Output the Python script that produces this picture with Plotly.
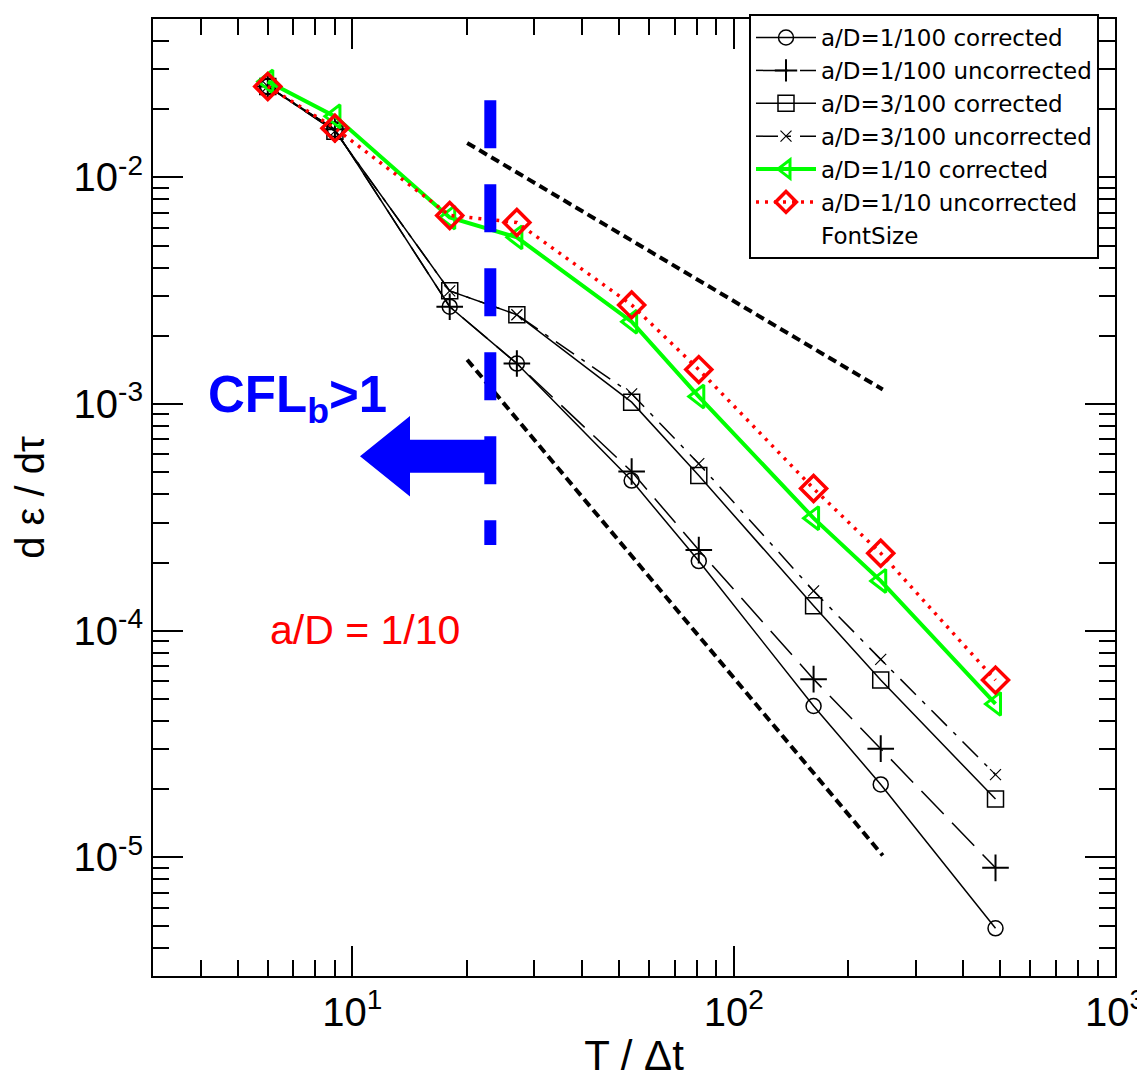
import numpy as np
import plotly.graph_objects as go

# ---------------- data ----------------
t_dt = [6, 9, 18, 27, 54, 81, 162, 243, 486]

ad100_corr = [0.0252, 0.0163, 0.00269, 0.00151, 4.60e-4, 2.03e-4, 4.66e-5, 2.10e-5, 4.87e-6]
ad100_unc = [0.0252, 0.0163, 0.00269, 0.00151, 5.04e-4, 2.27e-4, 6.12e-5, 3.02e-5, 9.0e-6]
ad300_corr = [0.0252, 0.0160, 0.00316, 0.00248, 1.02e-3, 4.84e-4, 1.29e-4, 6.06e-5, 1.81e-5]
ad300_unc = [0.0252, 0.0160, 0.00316, 0.00248, 1.11e-3, 5.46e-4, 1.50e-4, 7.48e-5, 2.32e-5]
ad10_corr = [0.0265, 0.0186, 0.00666, 0.00544, 2.31e-3, 1.08e-3, 3.14e-4, 1.66e-4, 4.76e-5]
ad10_unc = [0.0252, 0.0165, 0.00680, 0.00633, 2.74e-3, 1.42e-3, 4.24e-4, 2.20e-4, 6.06e-5]

# reference slopes
slope1_x = [20, 246]
slope1_y = [0.0142, 0.00116]
slope2_x = [20, 246]
slope2_y = [0.00157, 1.02e-5]

# CFL_b = 1 marker line
cfl_x = [23, 23]
cfl_y = [0.0219, 2.39e-4]

x_ticks = [10, 100, 1000]
x_ticktext = ["10<sup>1</sup>", "10<sup>2</sup>", "10<sup>3</sup>"]
y_ticks = [1e-5, 1e-4, 1e-3, 1e-2]
y_ticktext = ["10<sup>-5</sup>", "10<sup>-4</sup>", "10<sup>-3</sup>", "10<sup>-2</sup>"]

# ---------------- figure ----------------
# the page body has an 8px margin; the figure is sized to fill the window exactly
BODY = 8
W, H = 1145 - 2 * BODY, 1087 - 2 * BODY
ML, MR, MT, MB = 145, 22, 6, 103
PW = W - ML - MR
PH = H - MT - MB


def px2paper(px, py):
    """page pixel -> paper coordinates"""
    return (px - BODY - ML) / PW, (BODY + H - MB - py) / PH


fig = go.Figure()

thin = 1.5
fig.add_trace(go.Scatter(
    x=t_dt, y=ad100_corr, name="a/D=1/100 corrected", mode="lines+markers",
    line=dict(color="black", width=thin),
    marker=dict(symbol="circle-open", size=15, color="black", line=dict(width=1.5))))
fig.add_trace(go.Scatter(
    x=t_dt, y=ad100_unc, name="a/D=1/100 uncorrected", mode="lines+markers",
    line=dict(color="black", width=thin, dash="32px,12px"),
    marker=dict(symbol="cross-thin-open", size=19, color="black", line=dict(width=2, color="black"))))
fig.add_trace(go.Scatter(
    x=t_dt, y=ad300_corr, name="a/D=3/100 corrected", mode="lines+markers",
    line=dict(color="black", width=thin),
    marker=dict(symbol="square-open", size=16, color="black", line=dict(width=1.5))))
fig.add_trace(go.Scatter(
    x=t_dt, y=ad300_unc, name="a/D=3/100 uncorrected", mode="lines+markers",
    line=dict(color="black", width=thin, dash="22px,9px,4px,9px"),
    marker=dict(symbol="x-thin-open", size=11, color="black", line=dict(width=1.2, color="black"))))
fig.add_trace(go.Scatter(
    x=t_dt, y=ad10_corr, name="a/D=1/10 corrected", mode="lines+markers",
    line=dict(color="#00ff00", width=4),
    marker=dict(symbol="triangle-left-open", size=20, color="#00ff00", line=dict(width=3, color="#00ff00"))))
fig.add_trace(go.Scatter(
    x=t_dt, y=ad10_unc, name="a/D=1/10 uncorrected", mode="lines+markers",
    line=dict(color="#ff0000", width=3.5, dash="3px,6px"),
    marker=dict(symbol="diamond-open", size=20, color="#ff0000", line=dict(width=3.5, color="#ff0000"))))
fig.add_trace(go.Scatter(
    x=[None], y=[None], name="FontSize", mode="lines",
    line=dict(color="rgba(0,0,0,0)", width=0)))

# slope guide lines
for sx, sy in ((slope1_x, slope1_y), (slope2_x, slope2_y)):
    fig.add_trace(go.Scatter(
        x=sx, y=sy, mode="lines", showlegend=False, hoverinfo="skip",
        line=dict(color="black", width=4, dash="9px,5px")))

# CFL vertical dashed line
fig.add_trace(go.Scatter(
    x=cfl_x, y=cfl_y, mode="lines", showlegend=False, hoverinfo="skip",
    line=dict(color="#0000ff", width=12, dash="48px,36px")))

# blue arrow (pointing left)
arrow_px = [(360, 453.5), (410, 413), (410, 437), (495, 437), (495, 470), (410, 470), (410, 494)]
pts = [px2paper(a, b) for a, b in arrow_px]
path = "M " + " L ".join(f"{p[0]:.5f},{p[1]:.5f}" for p in pts) + " Z"
fig.add_shape(type="path", path=path, xref="paper", yref="paper",
              fillcolor="#0000ff", line=dict(color="#0000ff", width=0))

font_main = "Liberation Sans, Arial, sans-serif"

cx, cy = px2paper(206, 395)
fig.add_annotation(text="<b>CFL<sub>b</sub>&gt;1</b>", xref="paper", yref="paper",
                   x=cx, y=cy, xanchor="left", yanchor="middle", showarrow=False,
                   font=dict(family=font_main, size=51, color="#0000ff"))
ax_, ay_ = px2paper(268, 628)
fig.add_annotation(text="a/D = 1/10", xref="paper", yref="paper",
                   x=ax_, y=ay_, xanchor="left", yanchor="middle", showarrow=False,
                   font=dict(family=font_main, size=41, color="#ff0000"))

axis_common = dict(
    type="log", showline=True, linecolor="black", linewidth=2, mirror="ticks",
    ticks="inside", ticklen=30, tickwidth=2, tickcolor="black",
    showgrid=False, zeroline=False, automargin=False, ticklabeloverflow="allow",
    tickfont=dict(family=font_main, size=40, color="black"),
    minor=dict(ticks="inside", ticklen=16, tickwidth=2, tickcolor="black", dtick="D1", showgrid=False),
)

fig.update_xaxes(**axis_common, range=[np.log10(3), 3], tickmode="array",
                 tickvals=x_ticks, ticktext=x_ticktext,
                 title=dict(text="T / Δt", font=dict(family=font_main, size=42, color="black"), standoff=13))
fig.update_yaxes(**axis_common, range=[np.log10(3e-6), np.log10(0.05)], tickmode="array",
                 tickvals=y_ticks, ticktext=y_ticktext,
                 title=dict(text="d ε / dτ", font=dict(family=font_main, size=40, color="black"), standoff=26))

lx = px2paper(749, 0)[0]
ly = 1 + (MT - 1) / PH   # just below the top edge of the figure
fig.update_layout(
    width=W, height=H, autosize=False,
    margin=dict(l=ML, r=MR, t=MT, b=MB),
    paper_bgcolor="white", plot_bgcolor="white",
    legend=dict(x=lx, y=ly, xanchor="left", yanchor="top",
                bgcolor="white", bordercolor="black", borderwidth=2,
                font=dict(family="DejaVu Sans", size=23, color="black"),
                itemwidth=60, tracegroupgap=0),
)

fig.write_html("out.html")
